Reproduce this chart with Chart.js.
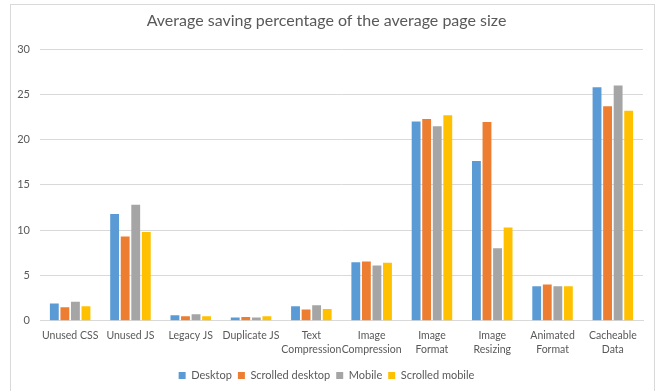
<!DOCTYPE html>
<html>
<head>
<meta charset="utf-8">
<script src="https://cdn.jsdelivr.net/npm/chart.js@4/dist/chart.umd.min.js"></script>
<style>
  html, body { margin: 0; padding: 0; background: #ffffff; }
  #wrap { position: relative; width: 658px; height: 391px; overflow: hidden; }
  #frame { position: absolute; left: 10px; top: 4px; width: 645px; height: 420px; border: 1px solid #d9d9d9; box-sizing: border-box; }
  canvas { position: absolute; left: 0; top: 0; }
</style>
</head>
<body>
<div id="wrap">
  <div id="frame"></div>
  <canvas id="chart" width="658" height="391"></canvas>
</div>
<script>
// Audit categories (x axis), split into lines as they wrap under the axis
const categories = [
  'Unused CSS', 'Unused JS', 'Legacy JS', 'Duplicate JS',
  ['Text', 'Compression'], ['Image', 'Compression'], ['Image', 'Format'],
  ['Image', 'Resizing'], ['Animated', 'Format'], ['Cacheable', 'Data']
];

// Average saving percentage per audit
const desktop         = [1.9, 11.8, 0.6, 0.35, 1.6, 6.45, 22.0, 17.65, 3.8, 25.8];
const scrolledDesktop = [1.5,  9.3, 0.5, 0.42, 1.25, 6.55, 22.3, 21.95, 4.0, 23.7];
const mobile          = [2.1, 12.8, 0.7, 0.35, 1.7, 6.1, 21.5, 8.0, 3.8, 26.0];
const scrolledMobile  = [1.6,  9.8, 0.5, 0.5, 1.3, 6.4, 22.7, 10.3, 3.8, 23.2];

const yTicks = [0, 5, 10, 15, 20, 25, 30];

const FONT = 'Lato, "Open Sans", sans-serif';
const TEXT = '#595959';
const GRID = '#d9d9d9';

function series(label, data, color) {
  return {
    label, data,
    backgroundColor: color,
    borderWidth: 0,
    categoryPercentage: 0.7,
    barPercentage: 0.84
  };
}

new Chart(document.getElementById('chart'), {
  type: 'bar',
  data: {
    labels: categories,
    datasets: [
      series('Desktop', desktop, '#5B9BD5'),
      series('Scrolled desktop', scrolledDesktop, '#ED7D31'),
      series('Mobile', mobile, '#A5A5A5'),
      series('Scrolled mobile', scrolledMobile, '#FFC000')
    ]
  },
  options: {
    responsive: false,
    animation: false,
    devicePixelRatio: 1,
    layout: { padding: { left: 10, right: 15, top: 8, bottom: 0 } },
    plugins: {
      title: {
        display: true,
        text: 'Average saving percentage of the average page size',
        color: TEXT,
        font: { family: FONT, size: 16, weight: 'normal' },
        padding: { top: 3, bottom: 19 }
      },
      legend: {
        position: 'bottom',
        labels: {
          color: TEXT,
          font: { family: FONT, size: 11 },
          boxWidth: 7,
          boxHeight: 7,
          padding: 6
        }
      },
      tooltip: { enabled: false }
    },
    scales: {
      x: {
        grid: { display: false, drawTicks: false },
        border: { color: GRID },
        ticks: {
          color: TEXT,
          font: { family: FONT, size: 10.5, lineHeight: 1.3 },
          padding: 8,
          maxRotation: 0,
          autoSkip: false
        }
      },
      y: {
        min: 0, max: 30,
        afterFit(scale) { scale.width = 30; },
        afterBuildTicks(scale) { scale.ticks = yTicks.map(v => ({ value: v })); },
        grid: { color: GRID, drawTicks: false },
        border: { display: false },
        ticks: {
          color: TEXT,
          font: { family: FONT, size: 11 },
          padding: 10
        }
      }
    }
  }
});
</script>
</body>
</html>
